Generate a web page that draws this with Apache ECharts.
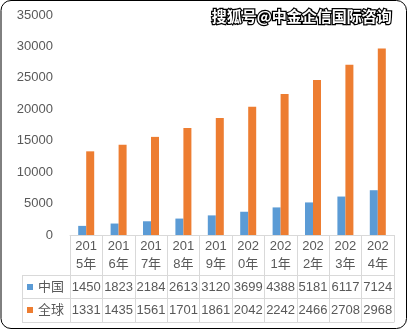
<!DOCTYPE html>
<html><head><meta charset="utf-8">
<script src="https://cdn.jsdelivr.net/npm/echarts@6/dist/echarts.min.js"></script>
<style>html,body{margin:0;padding:0;background:#fff}#c{width:408px;height:330px}</style>
</head><body><div id="c"></div>
<script>
const categories = ['2015年','2016年','2017年','2018年','2019年','2020年','2021年','2022年','2023年','2024年'];
const seriesNames = ['中国','全球'];
const chinaValues = [1450,1823,2184,2613,3120,3699,4388,5181,6117,7124];
const globalValues = [13310,14350,15610,17010,18610,20420,22420,24660,27080,29680];
const yTicks = [0,5000,10000,15000,20000,25000,30000,35000];
const watermark = '搜狐号@中金企信国际咨询';

const FONT = '"Liberation Sans","Noto Sans CJK SC",sans-serif';
const TXT = '#595959';
const LINE = '#D9D9D9';
const G = {left:70, right:14, top:15, bottom:95};
const W = 408, H = 330;
const axisY = H - G.bottom;           // 235
const rowOff = [40, 63, 87];          // table row boundaries below axis
const tableLeft = 22;

const chart = echarts.init(document.getElementById('c'), null, {renderer:'canvas'});
function tableAxis(offset, labels, margin){
  return {
    type:'category', data:categories, position:'bottom', offset:offset, gridIndex:0,
    axisLine:{show:true, lineStyle:{color:LINE, width:1}},
    axisTick:{show:false},
    axisLabel:{show:!!labels, interval:0, margin:margin, verticalAlign:'middle',
      color:TXT, fontSize:13, fontFamily:FONT,
      formatter:(v,i)=> labels ? String(labels[i]).slice(0,4) : ''},
    splitLine:{show:false}
  };
}
const option = {
  animation:false,
  backgroundColor:'#fff',
  grid:G,
  legend:{
    data:seriesNames, orient:'vertical', left:27, top:axisY+rowOff[0]+5, padding:0,
    itemWidth:6, itemHeight:6, itemGap:9, icon:'rect',
    textStyle:{color:TXT, fontSize:13, fontFamily:FONT, lineHeight:14}
  },
  xAxis:[
    {
      type:'category', data:categories, position:'bottom', boundaryGap:true,
      axisLine:{show:true, lineStyle:{color:LINE, width:1}},
      axisTick:{show:true, length:rowOff[2], interval:0, lineStyle:{color:LINE, width:1}},
      axisLabel:{interval:0, margin:20, verticalAlign:'middle', color:TXT, fontSize:13,
        fontFamily:FONT, lineHeight:18,
        formatter:v=> v.slice(0,3)+'\n'+v.slice(3)},
      splitLine:{show:false}
    },
    tableAxis(rowOff[0], chinaValues, 12),
    tableAxis(rowOff[1], globalValues, 12),
    tableAxis(rowOff[2], null, 0)
  ],
  yAxis:{
    type:'value', min:0, max:yTicks[yTicks.length-1], interval:yTicks[1]-yTicks[0],
    axisLine:{show:false}, axisTick:{show:false}, splitLine:{show:false},
    axisLabel:{margin:17, color:TXT, fontSize:13, fontFamily:FONT, formatter:v=>String(v)}
  },
  series:[
    {name:seriesNames[0], type:'bar', data:chinaValues, barWidth:8, barGap:'0%',
     itemStyle:{color:'#5B9BD5'}},
    {name:seriesNames[1], type:'bar', data:globalValues, barWidth:8, barGap:'0%',
     itemStyle:{color:'#ED7D31'}}
  ],
  graphic:[
    {type:'rect', shape:{x:1, y:0.5, width:W-2.5, height:H-2, r:10}, silent:true,
     style:{fill:null, stroke:'#000', lineWidth:1}},
    {type:'line', shape:{x1:tableLeft, y1:axisY+rowOff[0]+0.5, x2:G.left, y2:axisY+rowOff[0]+0.5}, style:{stroke:LINE, lineWidth:1}},
    {type:'line', shape:{x1:tableLeft, y1:axisY+rowOff[1]+0.5, x2:G.left, y2:axisY+rowOff[1]+0.5}, style:{stroke:LINE, lineWidth:1}},
    {type:'line', shape:{x1:tableLeft, y1:axisY+rowOff[2]+0.5, x2:G.left, y2:axisY+rowOff[2]+0.5}, style:{stroke:LINE, lineWidth:1}},
    {type:'line', shape:{x1:tableLeft+0.5, y1:axisY+rowOff[0], x2:tableLeft+0.5, y2:axisY+rowOff[2]+1}, style:{stroke:LINE, lineWidth:1}},
    {type:'text', right:15, top:8, silent:true,
     style:{text:watermark, fontSize:15, fontWeight:'bold', fontFamily:'"Noto Sans CJK SC",sans-serif',
       fill:'#fff', stroke:'#000', lineWidth:2.5}}
  ]
};
chart.setOption(option);
</script></body></html>
